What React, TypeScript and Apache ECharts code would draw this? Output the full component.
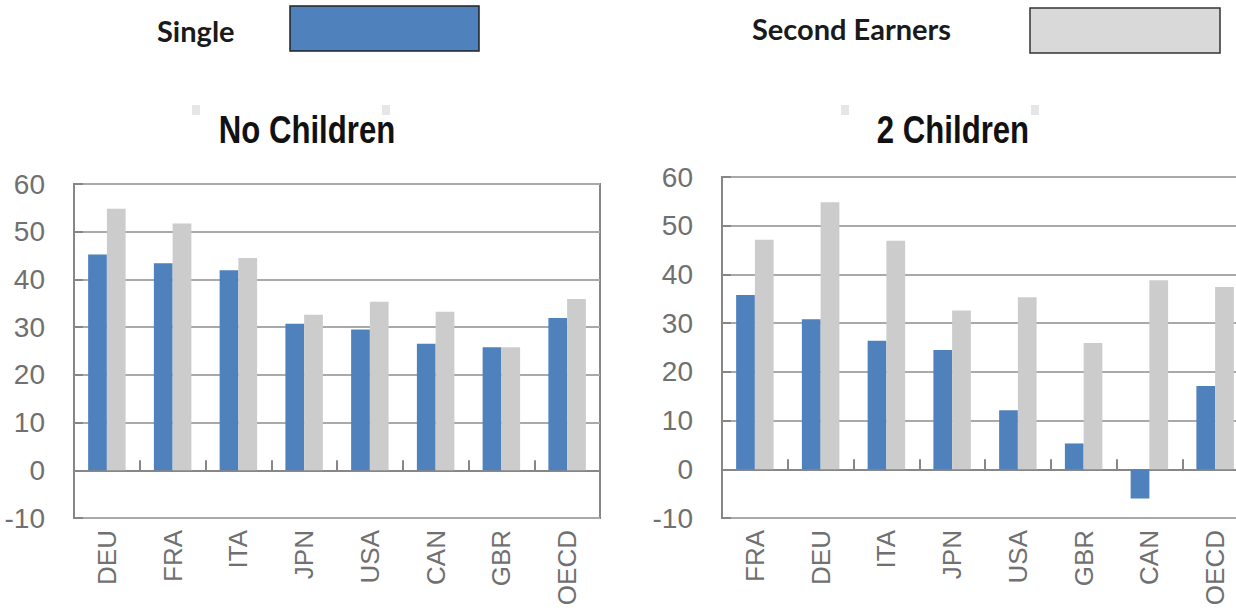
import React, { useEffect, useRef } from "react";
import * as echarts from "echarts";

// Categories for each panel
const categoriesNoChildren = ["DEU", "FRA", "ITA", "JPN", "USA", "CAN", "GBR", "OECD"];
const categoriesTwoChildren = ["FRA", "DEU", "ITA", "JPN", "USA", "GBR", "CAN", "OECD"];

// Series values
const singleNoChildren = [45.2, 43.4, 41.9, 30.7, 29.5, 26.5, 25.8, 31.9];
const secondNoChildren = [54.8, 51.7, 44.5, 32.6, 35.3, 33.2, 25.8, 35.9];
const singleTwoChildren = [35.8, 30.8, 26.4, 24.5, 12.1, 5.3, -6.0, 17.1];
const secondTwoChildren = [47.1, 54.8, 46.9, 32.6, 35.3, 25.9, 38.8, 37.4];

// Axis range
const yMin = -10;
const yMax = 60;
const yStep = 10;

const seriesNames = ["Single", "Second Earners"];
const panelTitles = ["No Children", "2 Children"];

const BLUE = "#4F81BD";
const GREY = "#CCCCCC";
const AXIS = "#878787";
const GRIDLINE = "#a9a9a9";
const LABEL = "#707070";
const SANS = "'Liberation Sans', Arial, sans-serif";
const LEGEND_FONT = "bold 29px Lato, 'Open Sans', sans-serif";

function tickAxis(gridIndex: number, data: string[]) {
  return {
    gridIndex,
    type: "category",
    data,
    position: "bottom",
    axisLine: { show: true, onZero: true, lineStyle: { color: AXIS, width: 2 } },
    axisTick: { show: true, inside: true, length: 10, lineStyle: { color: AXIS, width: 2 } },
    axisLabel: { show: false },
    splitLine: { show: false },
  };
}

function labelAxis(gridIndex: number, data: string[]) {
  return {
    gridIndex,
    type: "category",
    data,
    position: "bottom",
    axisLine: { show: false, onZero: false },
    axisTick: { show: false },
    axisLabel: { rotate: 90, fontSize: 26, color: LABEL, fontFamily: SANS, margin: 12 },
    splitLine: { show: false },
  };
}

function valueAxis(gridIndex: number) {
  return {
    gridIndex,
    type: "value",
    min: yMin,
    max: yMax,
    interval: yStep,
    axisLine: { show: true, lineStyle: { color: AXIS, width: 2 } },
    axisTick: { show: true, inside: true, length: 9, lineStyle: { color: AXIS, width: 2 } },
    axisLabel: { fontSize: 28, color: LABEL, fontFamily: SANS, margin: 29 },
    splitLine: { show: true, lineStyle: { color: GRIDLINE, width: 2 } },
  };
}

function bar(name: string, data: number[], color: string, xAxisIndex: number, yAxisIndex: number) {
  return {
    type: "bar",
    name,
    data,
    xAxisIndex,
    yAxisIndex,
    barGap: "0%",
    barCategoryGap: "43%",
    itemStyle: { color },
    silent: true,
  };
}

// Bold panel title, horizontally condensed
function title(text: string, x: number) {
  return {
    type: "text",
    x,
    y: 130,
    scaleX: 0.82,
    style: {
      text,
      font: `bold 38px ${SANS}`,
      fill: "#111111",
      textAlign: "center",
      textVerticalAlign: "middle",
    },
  };
}

function mark(x: number) {
  return { type: "rect", shape: { x, y: 105, width: 8, height: 10 }, style: { fill: "#e6e6e6" } };
}

export default function App() {
  const ref = useRef<HTMLDivElement>(null);

  useEffect(() => {
    if (!ref.current) return;
    const chart = echarts.init(ref.current, null, { renderer: "svg" });

    const option = {
      animation: false,
      backgroundColor: "#ffffff",
      grid: [
        {
          left: 74, top: 184, width: 526, height: 334,
          show: true, borderColor: AXIS, borderWidth: 2,
          containLabel: false, outerBoundsMode: "none",
        },
        {
          left: 722, top: 177, width: 526, height: 341,
          show: true, borderColor: AXIS, borderWidth: 2,
          containLabel: false, outerBoundsMode: "none",
        },
      ],
      xAxis: [
        tickAxis(0, categoriesNoChildren),
        labelAxis(0, categoriesNoChildren),
        tickAxis(1, categoriesTwoChildren),
        labelAxis(1, categoriesTwoChildren),
      ],
      yAxis: [valueAxis(0), valueAxis(1)],
      series: [
        bar(seriesNames[0], singleNoChildren, BLUE, 0, 0),
        bar(seriesNames[1], secondNoChildren, GREY, 0, 0),
        bar(seriesNames[0], singleTwoChildren, BLUE, 2, 1),
        bar(seriesNames[1], secondTwoChildren, GREY, 2, 1),
      ],
      graphic: [
        // Legend
        {
          type: "text", x: 157, y: 30,
          style: { text: seriesNames[0], font: LEGEND_FONT, fill: "#1a1a1a", textVerticalAlign: "middle" },
        },
        {
          type: "rect", shape: { x: 290, y: 6, width: 189, height: 45 },
          style: { fill: BLUE, stroke: "#222222", lineWidth: 1.5 },
        },
        {
          type: "text", x: 752, y: 28,
          style: { text: seriesNames[1], font: LEGEND_FONT, fill: "#1a1a1a", textVerticalAlign: "middle" },
        },
        {
          type: "rect", shape: { x: 1030, y: 8, width: 190, height: 45 },
          style: { fill: "#D9D9D9", stroke: "#333333", lineWidth: 1.5 },
        },
        // Panel titles with their faint corner marks
        mark(192),
        mark(382),
        mark(841),
        mark(1031),
        title(panelTitles[0], 307),
        title(panelTitles[1], 953),
      ],
    };

    chart.setOption(option as any);
    return () => chart.dispose();
  }, []);

  return (
    <div
      ref={ref}
      style={{ position: "absolute", left: 0, top: 0, width: 1236, height: 613, background: "#fff" }}
    />
  );
}
